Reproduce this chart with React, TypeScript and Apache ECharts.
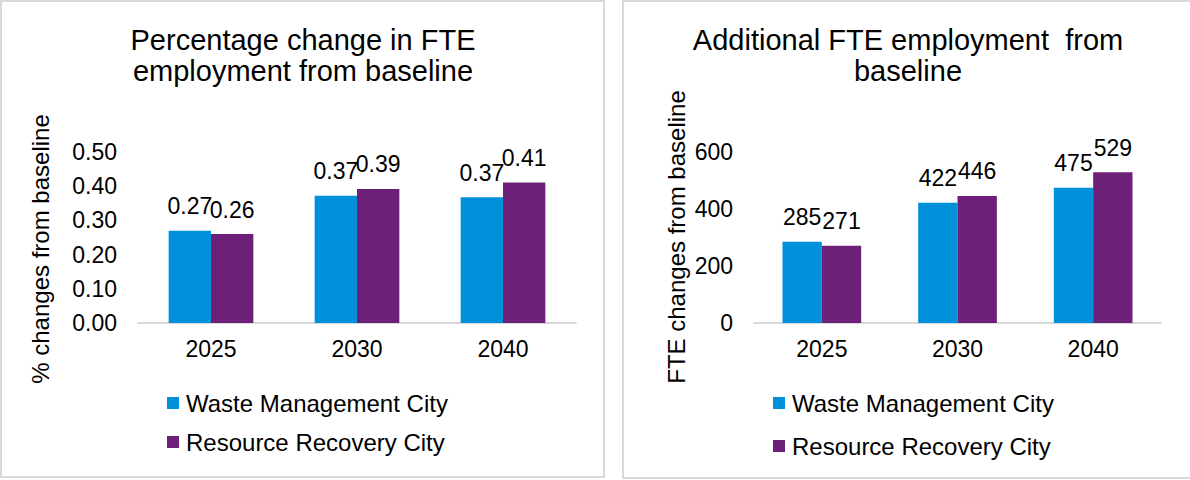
import React, { useEffect, useRef } from "react";
import * as echarts from "echarts";

const categories = ["2025", "2030", "2040"];
const seriesNames = ["Waste Management City", "Resource Recovery City"];
const pctWaste = [0.27, 0.372, 0.368];
const pctResource = [0.26, 0.392, 0.411];
const fteWaste = [285, 422, 475];
const fteResource = [271, 446, 529];
const pctAxis = { min: 0, max: 0.5, interval: 0.1 };
const fteAxis = { min: 0, max: 600, interval: 200 };
const leftTitle = ["Percentage change in FTE", "employment from baseline"];
const rightTitle = ["Additional FTE employment  from", "baseline"];
const leftAxisName = "% changes from baseline";
const rightAxisName = "FTE changes from baseline";

const FONT = "'Liberation Sans', Arial, Helvetica, sans-serif";
const BLUE = "#0091DA";
const PURPLE = "#6D2077";
const BORDER = "#D9D9D9";

export default function App() {
  const ref = useRef<HTMLDivElement>(null);
  useEffect(() => {
    if (!ref.current) return;
    const chart = echarts.init(ref.current, undefined, { renderer: "svg" });
    const txt = (text: string, x: number, y: number, size: number, rotation = 0) => ({
      type: "text",
      x,
      y,
      rotation,
      style: {
        text,
        fontSize: size,
        fontFamily: FONT,
        fill: "#000",
        align: "center",
        verticalAlign: "middle",
      },
    });
    const xAxisBase = (gridIndex: number) => ({
      type: "category",
      gridIndex,
      data: categories,
      axisLine: { lineStyle: { color: BORDER, width: 2 } },
      axisTick: { show: false },
      axisLabel: { fontSize: 23, color: "#000", margin: 14, fontFamily: FONT },
    });
    const yAxisBase = (gridIndex: number, range: any, fmt: (v: number) => string) => ({
      type: "value",
      gridIndex,
      ...range,
      axisLine: { show: false },
      axisTick: { show: false },
      splitLine: { show: false },
      axisLabel: { fontSize: 23, color: "#000", margin: 21, fontFamily: FONT, formatter: fmt },
    });
    const legendBase = (left: number, top: number, gap: number) => ({
      data: seriesNames,
      orient: "vertical",
      left,
      top,
      padding: 0,
      itemWidth: 12,
      itemHeight: 12,
      itemGap: gap,
      icon: "rect",
      selectedMode: false,
      textStyle: { fontSize: 24, lineHeight: 24, color: "#000", fontFamily: FONT, padding: [0, 0, 0, 2] },
    });
    const bar = (name: string, data: number[], idx: number, color: string, fmt: (v: number) => string) => ({
      type: "bar",
      name,
      data,
      xAxisIndex: idx,
      yAxisIndex: idx,
      barGap: "0%",
      barCategoryGap: "42%",
      itemStyle: { color },
      label: {
        show: true,
        position: "top",
        distance: 13,
        fontSize: 23,
        color: "#000",
        fontFamily: FONT,
        formatter: (p: any) => fmt(p.value),
      },
    });
    const pctFmt = (v: number) => v.toFixed(2);
    const intFmt = (v: number) => String(Math.round(v));
    chart.setOption({
      animation: false,
      textStyle: { fontFamily: FONT },
      graphic: [
        { type: "rect", shape: { x: 1, y: 1, width: 603, height: 476 }, style: { fill: "#fff", stroke: BORDER, lineWidth: 2 }, z: -10 },
        { type: "rect", shape: { x: 623, y: 1, width: 572, height: 477 }, style: { fill: "#fff", stroke: BORDER, lineWidth: 2 }, z: -10 },
        txt(leftTitle[0], 303, 40, 29),
        txt(leftTitle[1], 303, 71, 29),
        txt(rightTitle[0], 908, 40, 29),
        txt(rightTitle[1], 908, 71, 29),
        txt(leftAxisName, 40, 249, 24, Math.PI / 2),
        txt(rightAxisName, 676, 237, 24, Math.PI / 2),
      ],
      grid: [
        { left: 138, top: 152, width: 438, height: 171 },
        { left: 754, top: 152, width: 407, height: 171 },
      ],
      xAxis: [xAxisBase(0), xAxisBase(1)],
      yAxis: [yAxisBase(0, pctAxis, pctFmt), yAxisBase(1, fteAxis, intFmt)],
      legend: [legendBase(167, 391, 15), legendBase(773, 391, 19)],
      series: [
        bar(seriesNames[0], pctWaste, 0, BLUE, pctFmt),
        bar(seriesNames[1], pctResource, 0, PURPLE, pctFmt),
        bar(seriesNames[0], fteWaste, 1, BLUE, intFmt),
        bar(seriesNames[1], fteResource, 1, PURPLE, intFmt),
      ],
    });
    return () => chart.dispose();
  }, []);
  return (
    <div
      ref={ref}
      style={{ position: "absolute", left: 0, top: 0, width: 1190, height: 480, background: "#fff" }}
    />
  );
}
